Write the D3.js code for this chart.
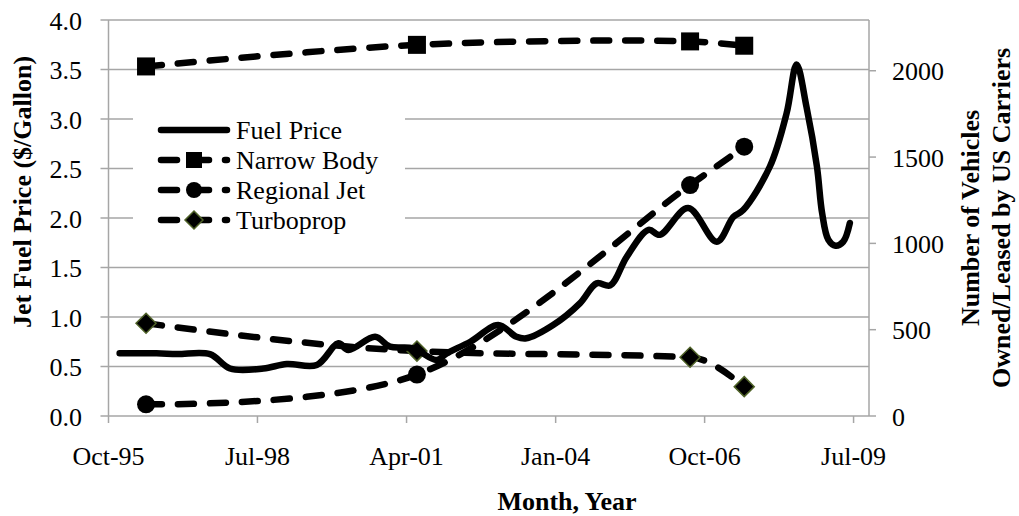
<!DOCTYPE html>
<html>
<head>
<meta charset="utf-8">
<script src="https://cdn.jsdelivr.net/npm/d3@7"></script>
<style>
  body { margin: 0; background: #fff; }
  svg { display: block; font-family: "Liberation Serif", "Times New Roman", serif; }
</style>
</head>
<body>
<script>
// fuel price series ($/gallon)
const fuelDates = ["1995-12-15","1996-08-20","1997-01-05","1997-08-15","1997-12-28","1998-08-10",
  "1999-01-15","1999-08-05","1999-12-28","2000-03-05","2000-09-01","2000-12-10","2001-05-15",
  "2001-10-20","2001-12-28","2002-06-05","2002-12-10","2003-04-12","2003-06-18","2003-12-15",
  "2004-06-12","2004-10-03","2005-01-03","2005-04-25","2005-09-18","2005-12-03","2006-06-12",
  "2006-12-22","2007-04-12","2007-06-18","2007-12-15","2008-04-06","2008-06-12","2008-08-18",
  "2008-10-27","2008-12-01","2009-01-12","2009-03-01","2009-04-22","2009-06-06"];
const fuelPrice = [0.635,0.633,0.626,0.625,0.48,0.48,0.525,0.515,0.734,0.667,0.80,0.70,0.684,
  0.566,0.633,0.75,0.919,0.80,0.785,0.919,1.138,1.34,1.32,1.61,1.88,1.83,2.10,1.76,2.01,2.08,
  2.52,3.06,3.55,3.12,2.52,2.05,1.78,1.72,1.76,1.95];

// vehicle counts (right axis)
const vehicleDates = ["1996-06-10","2001-06-10","2006-06-25","2007-06-25"];
const narrowBody = [2025, 2150, 2170, 2145];
const regionalJet = [68, 240, 1338, 1560];
const turboprop = [537, 376, 340, 170];

const leftTicks = [0, 0.5, 1, 1.5, 2, 2.5, 3, 3.5, 4];
const rightTicks = [0, 500, 1000, 1500, 2000];
const xTickDates = ["1995-10-01","1998-07-01","2001-04-01","2004-01-01","2006-10-01","2009-07-01"];

const W = 1019, H = 516;
const plot = {left: 108.5, right: 869, top: 20, bottom: 416};
const parse = d3.timeParse("%Y-%m-%d");
const fmt = d3.timeFormat("%b-%y");
const FS = 26;

const svg = d3.select("body").append("svg").attr("width", W).attr("height", H);

const x = d3.scaleTime()
  .domain([parse("1995-10-01"), parse("2009-10-13")])
  .range([plot.left, plot.right]);
const yL = d3.scaleLinear().domain([0, 4]).range([plot.bottom, plot.top]);
const yR = d3.scaleLinear().domain([0, 2294]).range([plot.bottom, plot.top]);

const grid = "#a6a6a6";

// gridlines
svg.append("g").selectAll("line").data(leftTicks).join("line")
  .attr("x1", plot.left - 8).attr("x2", plot.right)
  .attr("y1", d => yL(d)).attr("y2", d => yL(d))
  .attr("stroke", grid).attr("stroke-width", 1.5);

// left axis line
svg.append("line").attr("x1", plot.left).attr("x2", plot.left)
  .attr("y1", plot.top).attr("y2", plot.bottom).attr("stroke", grid).attr("stroke-width", 1.5);
// right axis line + ticks
svg.append("line").attr("x1", plot.right).attr("x2", plot.right)
  .attr("y1", plot.top).attr("y2", plot.bottom).attr("stroke", grid).attr("stroke-width", 1.5);
svg.append("g").selectAll("line").data(rightTicks).join("line")
  .attr("x1", plot.right).attr("x2", plot.right + 7)
  .attr("y1", d => yR(d)).attr("y2", d => yR(d))
  .attr("stroke", grid).attr("stroke-width", 1.5);
// x ticks
svg.append("g").selectAll("line").data(xTickDates).join("line")
  .attr("x1", d => x(parse(d))).attr("x2", d => x(parse(d)))
  .attr("y1", plot.bottom).attr("y2", plot.bottom + 7)
  .attr("stroke", grid).attr("stroke-width", 1.5);

// tick labels
svg.append("g").selectAll("text").data(leftTicks).join("text")
  .attr("x", 82).attr("y", d => yL(d) + 9.5)
  .attr("text-anchor", "end").attr("font-size", FS)
  .text(d => d.toFixed(1));
svg.append("g").selectAll("text").data(rightTicks).join("text")
  .attr("x", 892).attr("y", d => yR(d) + 9.5)
  .attr("font-size", FS)
  .text(d => d);
svg.append("g").selectAll("text").data(xTickDates).join("text")
  .attr("x", d => x(parse(d))).attr("y", 465)
  .attr("text-anchor", "middle").attr("font-size", FS)
  .text(d => fmt(parse(d)));

// axis titles
svg.append("text").attr("transform", "translate(31,192) rotate(-90)")
  .attr("text-anchor", "middle").attr("font-size", FS).attr("font-weight", "bold")
  .text("Jet Fuel Price ($/Gallon)");
svg.append("text").attr("transform", "translate(979,218) rotate(-90)")
  .attr("text-anchor", "middle").attr("font-size", FS).attr("font-weight", "bold")
  .text("Number of Vehicles");
svg.append("text").attr("transform", "translate(1010,218) rotate(-90)")
  .attr("text-anchor", "middle").attr("font-size", FS).attr("font-weight", "bold")
  .text("Owned/Leased by US Carriers");
svg.append("text").attr("x", 567).attr("y", 510)
  .attr("text-anchor", "middle").attr("font-size", FS).attr("font-weight", "bold")
  .text("Month, Year");

const dash = "16 16";
const olive = "#4f6228";

// vehicle series
const series = [
  {name: "Narrow Body", values: narrowBody, marker: "square", curve: d3.curveCatmullRom.alpha(0.5)},
  {name: "Regional Jet", values: regionalJet, marker: "circle", curve: d3.curveCatmullRom.alpha(0.5)},
  {name: "Turboprop", values: turboprop, marker: "diamond", curve: d3.curveMonotoneX}
];

function drawMarker(g, type, cx, cy, s) {
  if (type === "square") {
    g.append("rect").attr("x", cx - s / 2).attr("y", cy - s / 2)
      .attr("width", s).attr("height", s).attr("fill", "#000");
  } else if (type === "circle") {
    g.append("circle").attr("cx", cx).attr("cy", cy).attr("r", s / 2).attr("fill", "#000");
  } else {
    const h = s / 2 + 1;
    g.append("path")
      .attr("d", `M${cx},${cy - h}L${cx + h},${cy}L${cx},${cy + h}L${cx - h},${cy}Z`)
      .attr("fill", "#000").attr("stroke", olive).attr("stroke-width", 1.5);
  }
}

series.forEach(s => {
  const pts = vehicleDates.map((d, i) => ({date: parse(d), v: s.values[i]}));
  const vLine = d3.line().x(d => x(d.date)).y(d => yR(d.v)).curve(s.curve);
  svg.append("path").attr("d", vLine(pts))
    .attr("fill", "none").attr("stroke", "#000").attr("stroke-width", 6.5)
    .attr("stroke-dasharray", dash).attr("stroke-linecap", "round");
  const g = svg.append("g");
  pts.forEach(p => drawMarker(g, s.marker, x(p.date), yR(p.v), 18));
});

// fuel price line
const fuelPts = fuelDates.map((d, i) => ({date: parse(d), v: fuelPrice[i]}));
svg.append("path")
  .attr("d", d3.line().x(d => x(d.date)).y(d => yL(d.v)).curve(d3.curveCatmullRom.alpha(0.5))(fuelPts))
  .attr("fill", "none").attr("stroke", "#000").attr("stroke-width", 6.5)
  .attr("stroke-linecap", "round").attr("stroke-linejoin", "round");

// legend
const legend = svg.append("g");
legend.append("rect").attr("x", 133).attr("y", 108).attr("width", 272).attr("height", 124)
  .attr("fill", "#fff");
const legendItems = [{name: "Fuel Price", marker: null}].concat(series);
legendItems.forEach((it, i) => {
  const cy = 130 + i * 30;
  const ln = legend.append("line").attr("x1", 161).attr("x2", 227)
    .attr("y1", cy).attr("y2", cy).attr("stroke", "#000").attr("stroke-width", 6.5)
    .attr("stroke-linecap", "round");
  if (it.marker) {
    ln.attr("stroke-dasharray", dash);
    drawMarker(legend, it.marker, 194, cy, 16);
  }
  legend.append("text").attr("x", 236).attr("y", cy + 9)
    .attr("font-size", FS).text(it.name);
});
</script>
</body>
</html>
